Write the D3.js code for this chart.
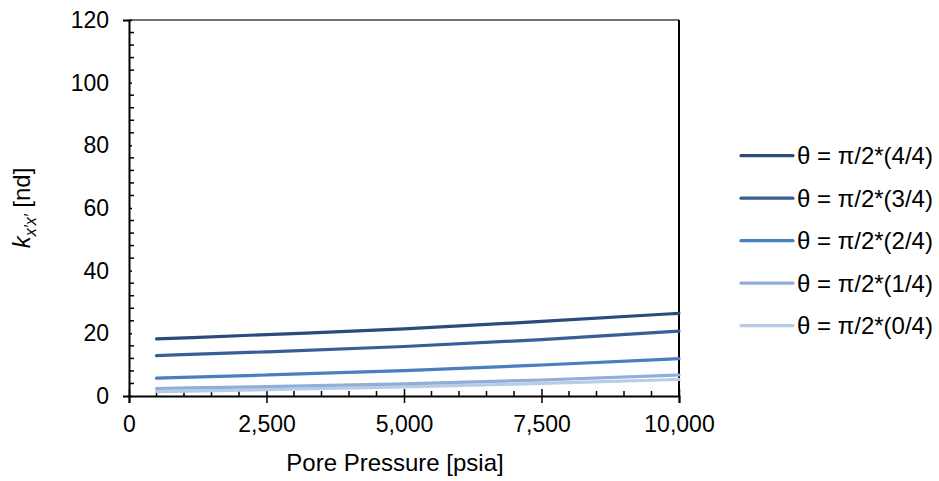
<!DOCTYPE html>
<meta charset="utf-8">
<script src="https://d3js.org/d3.v7.min.js"></script>
<style>
body { margin: 0; background: #fff; }
text { font-family: "Liberation Sans", Arial, sans-serif; fill: #000; }
</style>
<body>
</body>
<script>

// data
var pressure = [500, 2500, 5000, 7500, 10000];
var theta44 = [18.2, 19.6, 21.4, 23.8, 26.4];
var theta34 = [12.9, 14.1, 15.8, 18.0, 20.7];
var theta24 = [5.7, 6.7, 8.1, 9.9, 11.9];
var theta14 = [2.4, 3.0, 3.9, 5.1, 6.7];
var theta04 = [1.4, 2.0, 2.9, 4.0, 5.3];
var seriesNames = ["θ = π/2*(4/4)", "θ = π/2*(3/4)", "θ = π/2*(2/4)", "θ = π/2*(1/4)", "θ = π/2*(0/4)"];
var xTicks = [0, 2500, 5000, 7500, 10000];
var yTicks = [0, 20, 40, 60, 80, 100, 120];

var colors = ["#2b4b7b", "#375f96", "#4a7ebf", "#91aed9", "#b8cce6"];
var allSeries = [theta44, theta34, theta24, theta14, theta04];

var width = 939, height = 481;
var margin = {top: 20, right: 260, bottom: 85, left: 129};

var svg = d3.select("body").append("svg")
  .attr("width", width)
  .attr("height", height);

var xScale = d3.scaleLinear().domain([0, 10000]).range([margin.left, width - margin.right]);
var yScale = d3.scaleLinear().domain([0, 120]).range([height - margin.bottom, margin.top]);

var x0 = xScale.range()[0], x1 = xScale.range()[1];
var y0 = yScale.range()[0], y1 = yScale.range()[1];

// frame top + right
svg.append("line").attr("x1", x0).attr("x2", x1).attr("y1", y1).attr("y2", y1)
  .attr("stroke", "#444").attr("stroke-width", 1.5);
svg.append("line").attr("x1", x1).attr("x2", x1).attr("y1", y1).attr("y2", y0)
  .attr("stroke", "#000").attr("stroke-width", 2);

// minor ticks
var yMinor = d3.range(0, 121, 4).filter(function(d) { return d % 20 != 0; });
var xMinor = d3.range(0, 10001, 500).filter(function(d) { return d % 2500 != 0; });

svg.selectAll(".ymin").data(yMinor).enter().append("line")
  .attr("x1", x0).attr("x2", x0 + 5)
  .attr("y1", function(d) { return yScale(d); })
  .attr("y2", function(d) { return yScale(d); })
  .attr("stroke", "#000").attr("stroke-width", 1.5);

svg.selectAll(".xmin").data(xMinor).enter().append("line")
  .attr("y1", y0).attr("y2", y0 - 5)
  .attr("x1", function(d) { return xScale(d); })
  .attr("x2", function(d) { return xScale(d); })
  .attr("stroke", "#000").attr("stroke-width", 1.5);

// axes
var xAxis = d3.axisBottom(xScale).tickValues(xTicks).tickSize(7).tickPadding(13)
  .tickFormat(d3.format(","));
var yAxis = d3.axisLeft(yScale).tickValues(yTicks).tickSize(6).tickPadding(14);

var gx = svg.append("g").attr("transform", "translate(0," + y0 + ")").call(xAxis);
var gy = svg.append("g").attr("transform", "translate(" + x0 + ",0)").call(yAxis);

[gx, gy].forEach(function(g) {
  g.select(".domain").attr("stroke", "#000").attr("stroke-width", 2);
  g.selectAll(".tick line").attr("stroke", "#000").attr("stroke-width", 1.5);
  g.selectAll("text").attr("font-size", 23).attr("font-family", "Liberation Sans, Arial, sans-serif").attr("fill", "#000");
});
gx.selectAll(".tick line").attr("y1", -7);
gy.selectAll(".tick line").attr("x2", 3);

// lines
var line = d3.line()
  .x(function(d, i) { return xScale(pressure[i]); })
  .y(function(d) { return yScale(d); })
  .curve(d3.curveMonotoneX);

// draw lighter series first so darker sit on top
for (var i = allSeries.length - 1; i >= 0; i--) {
  svg.append("path")
    .attr("d", line(allSeries[i]))
    .attr("fill", "none")
    .attr("stroke", colors[i])
    .attr("stroke-width", 3.2)
    .attr("stroke-linecap", "round");
}

// axis titles
svg.append("text")
  .attr("x", (x0 + x1) / 2 - 9)
  .attr("y", 471)
  .attr("text-anchor", "middle")
  .attr("font-size", 24)
  .text("Pore Pressure [psia]");

var yl = svg.append("text")
  .attr("transform", "translate(30,208) rotate(-90)")
  .attr("text-anchor", "middle")
  .attr("font-size", 24);
yl.append("tspan").attr("font-style", "italic").text("k");
yl.append("tspan").attr("font-style", "italic").attr("font-size", 16).attr("dy", 6).text("x′x′");
yl.append("tspan").attr("dy", -6).text(" [nd]");

// legend
var legend = svg.selectAll(".legend").data(seriesNames).enter().append("g")
  .attr("transform", function(d, i) { return "translate(740," + (155.7 + i * 42.5) + ")"; });

legend.append("line")
  .attr("x1", 1).attr("x2", 53)
  .attr("stroke", function(d, i) { return colors[i]; })
  .attr("stroke-width", 3.2)
  .attr("stroke-linecap", "round");

legend.append("text")
  .attr("x", 57)
  .attr("dy", "0.36em")
  .attr("font-size", 24)
  .text(function(d) { return d; });

</script>
